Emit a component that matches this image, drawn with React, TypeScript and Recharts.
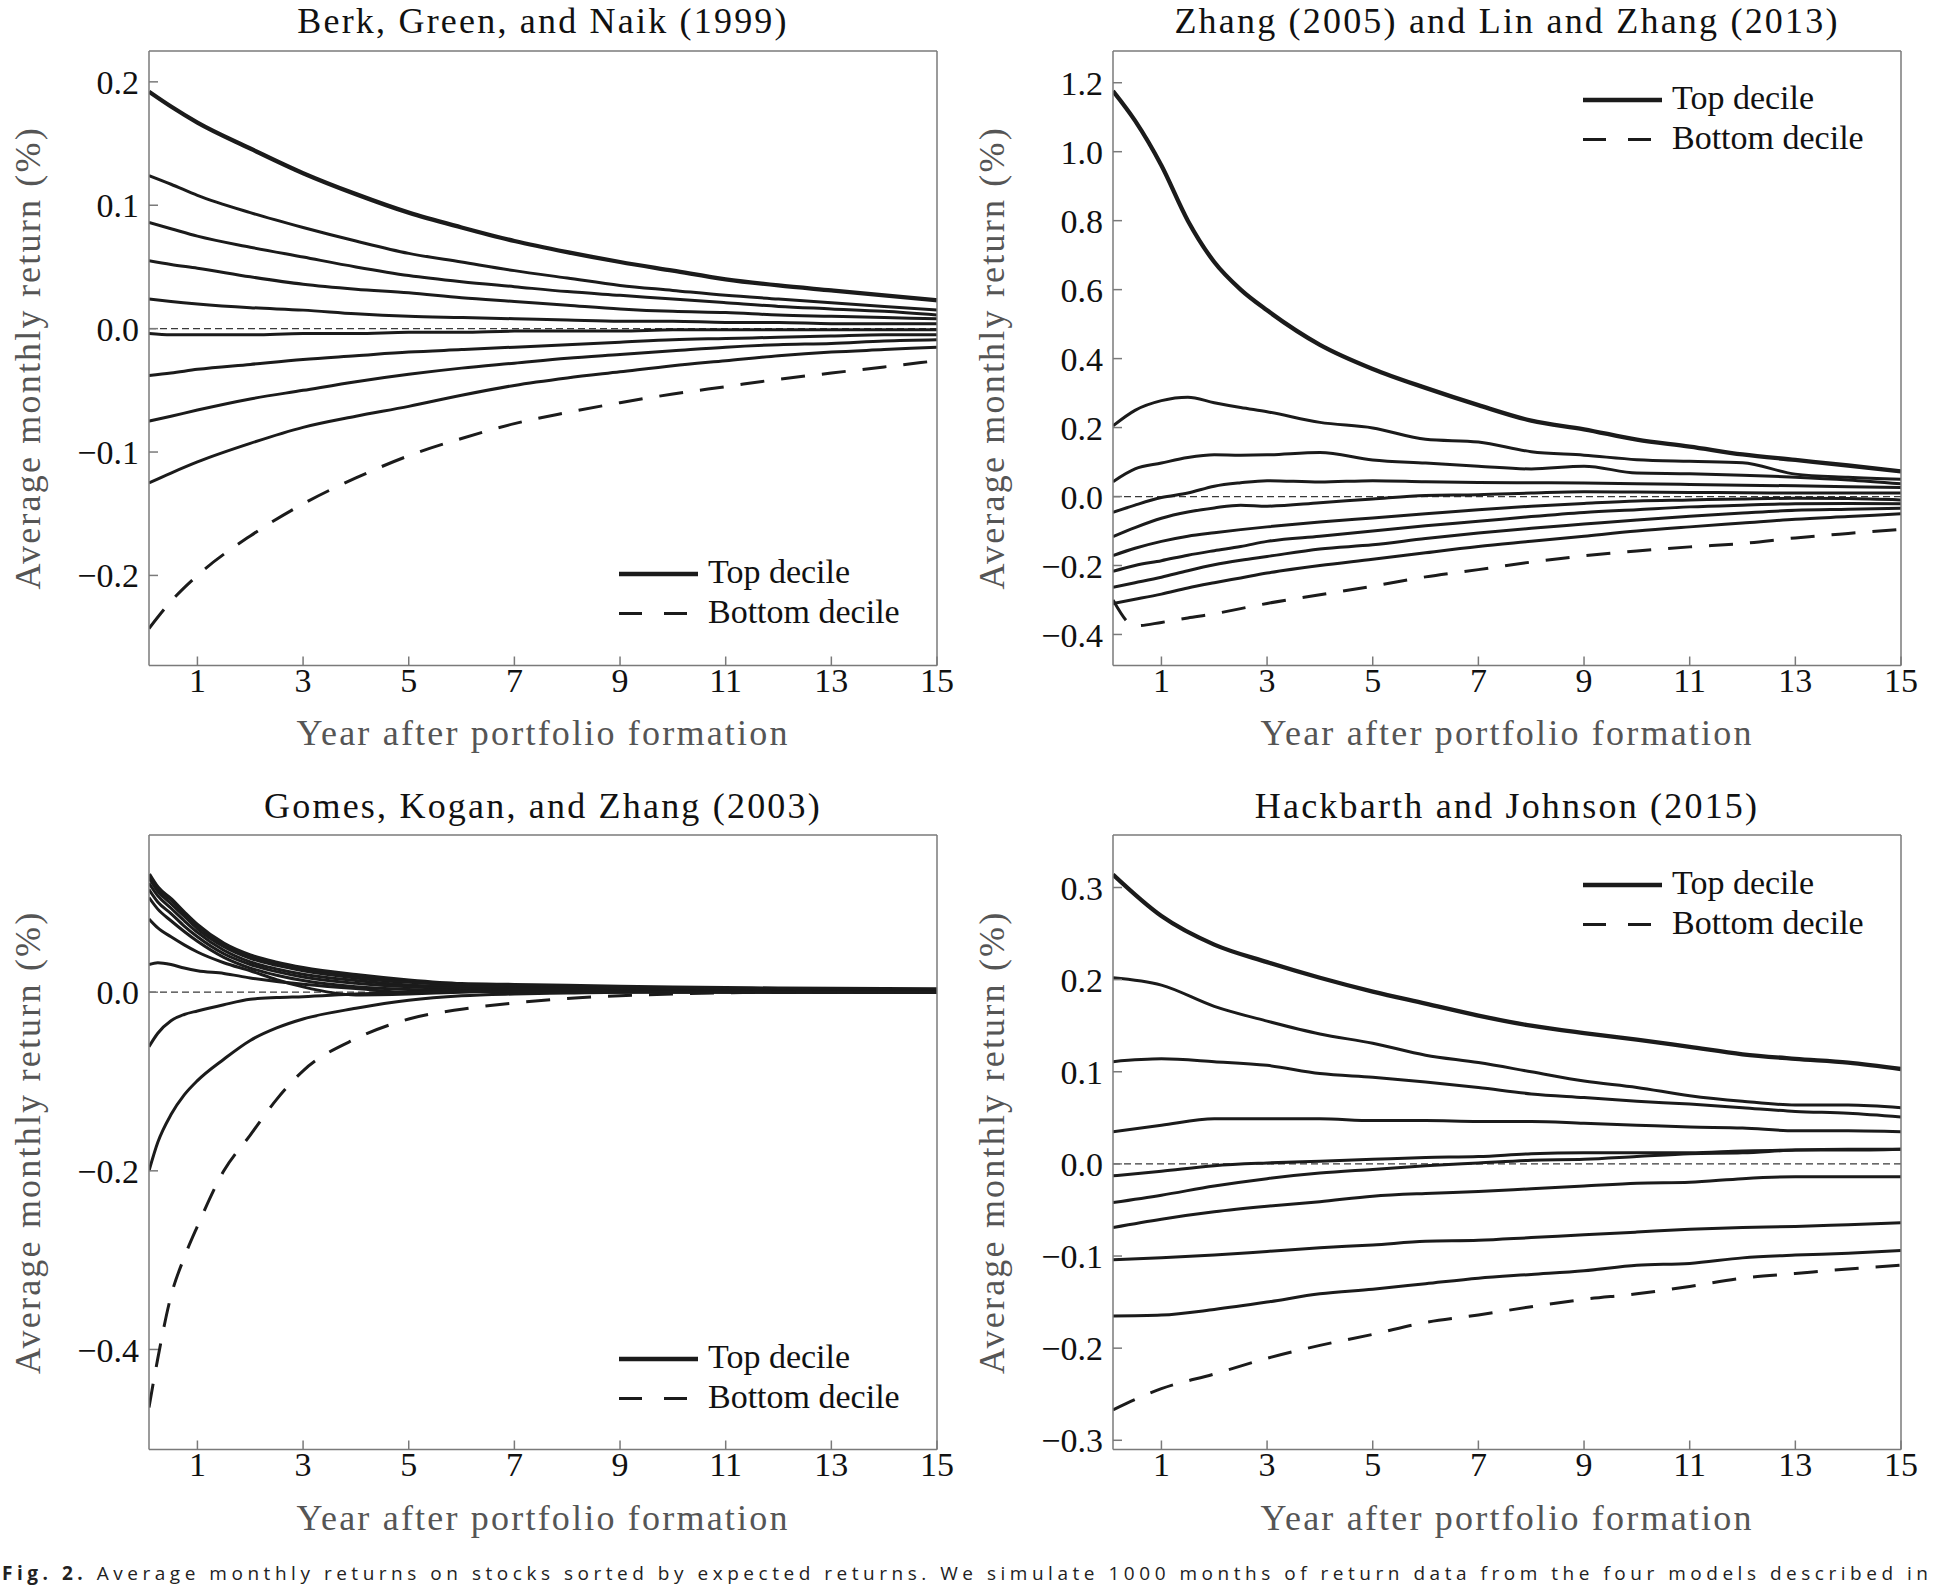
import React from 'react';
import { LineChart, Line, XAxis, YAxis, ReferenceLine, Legend } from 'recharts';

// Years after portfolio formation at which the curves were read, per panel.
// Each panel: deciles from top (d10, thick) down to bottom (d1, dashed).

// Berk, Green, and Naik (1999)
const bgnYears = [0.083, 0.5, 1, 2, 3, 4, 5, 6, 7, 8, 9, 10, 11, 12, 13, 14, 15];
const bgnD10 = [0.192, 0.18, 0.167, 0.146, 0.126, 0.109, 0.094, 0.082, 0.071, 0.062, 0.054, 0.047, 0.04, 0.035, 0.031, 0.027, 0.023];
const bgnD9 = [0.124, 0.117, 0.108, 0.094, 0.082, 0.071, 0.061, 0.054, 0.047, 0.041, 0.035, 0.031, 0.027, 0.024, 0.021, 0.018, 0.015];
const bgnD8 = [0.086, 0.081, 0.075, 0.066, 0.058, 0.05, 0.043, 0.038, 0.034, 0.03, 0.027, 0.024, 0.021, 0.018, 0.016, 0.014, 0.011];
const bgnD7 = [0.055, 0.052, 0.049, 0.042, 0.036, 0.032, 0.029, 0.025, 0.022, 0.019, 0.016, 0.014, 0.013, 0.011, 0.01, 0.009, 0.008];
const bgnD6 = [0.024, 0.022, 0.02, 0.017, 0.015, 0.012, 0.01, 0.009, 0.008, 0.007, 0.006, 0.006, 0.005, 0.005, 0.004, 0.004, 0.004];
const bgnD5 = [-0.004, -0.005, -0.005, -0.005, -0.004, -0.004, -0.003, -0.003, -0.002, -0.002, -0.002, -0.001, -0.001, -0.001, -0.001, -0.001, -0.001];
const bgnD4 = [-0.038, -0.036, -0.033, -0.029, -0.025, -0.022, -0.019, -0.017, -0.015, -0.013, -0.011, -0.009, -0.008, -0.007, -0.006, -0.005, -0.005];
const bgnD3 = [-0.075, -0.071, -0.066, -0.057, -0.05, -0.043, -0.037, -0.032, -0.028, -0.024, -0.021, -0.018, -0.015, -0.013, -0.012, -0.01, -0.009];
const bgnD2 = [-0.125, -0.117, -0.108, -0.093, -0.08, -0.071, -0.063, -0.054, -0.046, -0.04, -0.035, -0.03, -0.026, -0.022, -0.019, -0.017, -0.015];
const bgnD1 = [-0.243, -0.221, -0.2, -0.168, -0.142, -0.121, -0.103, -0.089, -0.077, -0.068, -0.06, -0.053, -0.047, -0.041, -0.036, -0.031, -0.026];

// Zhang (2005) and Lin and Zhang (2013)
const zhangYears = [0.083, 0.5, 1, 1.5, 2, 2.5, 3, 4, 5, 6, 7, 8, 9, 10, 11, 12, 13, 14, 15];
const zhangD10 = [1.176, 1.09, 0.96, 0.8, 0.68, 0.6, 0.54, 0.44, 0.37, 0.315, 0.265, 0.22, 0.195, 0.165, 0.145, 0.122, 0.106, 0.09, 0.073];
const zhangD9 = [0.205, 0.25, 0.278, 0.288, 0.272, 0.258, 0.246, 0.215, 0.199, 0.166, 0.158, 0.13, 0.12, 0.107, 0.102, 0.098, 0.065, 0.056, 0.05];
const zhangD8 = [0.043, 0.08, 0.097, 0.113, 0.121, 0.12, 0.121, 0.128, 0.106, 0.097, 0.088, 0.08, 0.088, 0.068, 0.066, 0.062, 0.056, 0.048, 0.037];
const zhangD7 = [-0.046, -0.025, -0.003, 0.01, 0.03, 0.04, 0.046, 0.042, 0.046, 0.043, 0.041, 0.04, 0.039, 0.037, 0.035, 0.033, 0.031, 0.028, 0.026];
const zhangD6 = [-0.116, -0.09, -0.063, -0.045, -0.033, -0.025, -0.028, -0.018, -0.007, 0.003, 0.005, 0.01, 0.014, 0.013, 0.012, 0.011, 0.01, 0.01, 0.01];
const zhangD5 = [-0.171, -0.15, -0.13, -0.115, -0.105, -0.096, -0.088, -0.074, -0.062, -0.05, -0.038, -0.028, -0.02, -0.013, -0.01, -0.007, -0.005, -0.006, -0.01];
const zhangD4 = [-0.217, -0.2, -0.186, -0.17, -0.157, -0.145, -0.13, -0.115, -0.1, -0.085, -0.072, -0.058, -0.046, -0.038, -0.03, -0.025, -0.021, -0.02, -0.021];
const zhangD3 = [-0.263, -0.25, -0.234, -0.215, -0.198, -0.185, -0.174, -0.152, -0.14, -0.122, -0.106, -0.092, -0.08, -0.068, -0.057, -0.048, -0.04, -0.037, -0.034];
const zhangD2 = [-0.31, -0.298, -0.283, -0.265, -0.25, -0.236, -0.222, -0.2, -0.182, -0.163, -0.145, -0.13, -0.115, -0.1, -0.088, -0.077, -0.066, -0.058, -0.05];
const zhangD1 = [-0.3, -0.375, -0.365, -0.352, -0.34, -0.325, -0.31, -0.285, -0.26, -0.233, -0.212, -0.19, -0.172, -0.158, -0.146, -0.136, -0.12, -0.107, -0.095];

// Gomes, Kogan, and Zhang (2003)
const gkzYears = [0.083, 0.25, 0.5, 0.75, 1, 1.5, 2, 2.5, 3, 4, 5, 6, 7, 8, 9, 10, 12, 15];
const gkzD10 = [0.132, 0.117, 0.104, 0.089, 0.075, 0.054, 0.041, 0.033, 0.027, 0.019, 0.013, 0.009, 0.008, 0.007, 0.006, 0.005, 0.004, 0.003];
const gkzD9 = [0.128, 0.113, 0.099, 0.085, 0.071, 0.051, 0.038, 0.03, 0.024, 0.016, 0.011, 0.008, 0.007, 0.006, 0.004, 0.004, 0.003, 0.002];
const gkzD8 = [0.122, 0.108, 0.094, 0.08, 0.067, 0.047, 0.034, 0.026, 0.02, 0.013, 0.008, 0.006, 0.005, 0.004, 0.003, 0.003, 0.002, 0.002];
const gkzD7 = [0.115, 0.101, 0.088, 0.074, 0.062, 0.043, 0.031, 0.023, 0.017, 0.01, 0.006, 0.004, 0.004, 0.003, 0.003, 0.002, 0.002, 0.001];
const gkzD6 = [0.106, 0.093, 0.08, 0.068, 0.057, 0.039, 0.027, 0.019, 0.013, 0.006, 0.003, 0.002, 0.003, 0.003, 0.002, 0.002, 0.001, 0.001];
const gkzD5 = [0.082, 0.072, 0.062, 0.053, 0.045, 0.033, 0.024, 0.014, 0.006, -0.003, -0.002, 0.0, 0.001, 0.001, 0.0, 0.001, 0.0, 0.0];
const gkzD4 = [0.031, 0.033, 0.031, 0.027, 0.024, 0.021, 0.016, 0.012, 0.009, 0.004, 0.0, 0.001, 0.002, 0.002, 0.001, 0.001, 0.001, 0.0];
const gkzD3 = [-0.061, -0.046, -0.032, -0.025, -0.021, -0.014, -0.008, -0.006, -0.005, -0.002, 0.0, 0.001, 0.0, 0.0, 0.001, 0.0, 0.0, 0.0];
const gkzD2 = [-0.2, -0.168, -0.137, -0.115, -0.099, -0.075, -0.054, -0.04, -0.03, -0.018, -0.009, -0.004, -0.002, -0.001, 0.0, 0.0, 0.0, 0.0];
const gkzD1 = [-0.465, -0.41, -0.34, -0.297, -0.262, -0.2, -0.16, -0.12, -0.088, -0.052, -0.03, -0.019, -0.012, -0.007, -0.004, -0.002, 0.0, 0.0];

// Hackbarth and Johnson (2015)
const hjYears = [0.083, 1, 2, 3, 4, 5, 6, 7, 8, 9, 10, 11, 12, 13, 14, 15];
const hjD10 = [0.314, 0.269, 0.238, 0.219, 0.202, 0.187, 0.174, 0.161, 0.15, 0.142, 0.135, 0.127, 0.119, 0.114, 0.11, 0.103];
const hjD9 = [0.202, 0.194, 0.171, 0.155, 0.141, 0.131, 0.118, 0.11, 0.1, 0.09, 0.083, 0.074, 0.068, 0.064, 0.064, 0.061];
const hjD8 = [0.111, 0.114, 0.111, 0.107, 0.098, 0.094, 0.089, 0.083, 0.076, 0.072, 0.068, 0.065, 0.061, 0.057, 0.055, 0.051];
const hjD7 = [0.035, 0.042, 0.049, 0.049, 0.049, 0.047, 0.047, 0.046, 0.046, 0.044, 0.042, 0.04, 0.039, 0.036, 0.036, 0.035];
const hjD6 = [-0.013, -0.008, -0.002, 0.001, 0.003, 0.005, 0.007, 0.008, 0.011, 0.012, 0.012, 0.012, 0.014, 0.015, 0.015, 0.016];
const hjD5 = [-0.042, -0.034, -0.024, -0.016, -0.01, -0.006, -0.002, 0.001, 0.004, 0.005, 0.008, 0.011, 0.012, 0.015, 0.016, 0.016];
const hjD4 = [-0.069, -0.06, -0.052, -0.046, -0.041, -0.035, -0.032, -0.03, -0.027, -0.024, -0.021, -0.02, -0.016, -0.014, -0.014, -0.014];
const hjD3 = [-0.104, -0.102, -0.099, -0.095, -0.091, -0.088, -0.084, -0.083, -0.08, -0.077, -0.074, -0.071, -0.069, -0.068, -0.066, -0.064];
const hjD2 = [-0.165, -0.164, -0.158, -0.15, -0.141, -0.136, -0.13, -0.124, -0.12, -0.116, -0.11, -0.108, -0.102, -0.099, -0.097, -0.094];
const hjD1 = [-0.267, -0.244, -0.228, -0.211, -0.197, -0.185, -0.172, -0.164, -0.155, -0.147, -0.141, -0.133, -0.124, -0.119, -0.114, -0.11];

const xTicks = [1, 3, 5, 7, 9, 11, 13, 15];
const bgnTicks = [-0.2, -0.1, 0, 0.1, 0.2];
const zhangTicks = [-0.4, -0.2, 0, 0.2, 0.4, 0.6, 0.8, 1.0, 1.2];
const gkzTicks = [-0.4, -0.2, 0];
const hjTicks = [-0.3, -0.2, -0.1, 0, 0.1, 0.2, 0.3];

const INK = '#1b1b1b';
const FRAME = '#7a7a7a';
const SERIF = "'Liberation Serif', 'Times New Roman', serif";

const PLOT_W = 788;
const PLOT_H = 614.5;
const MARGIN = { top: 10, right: 10, bottom: 50, left: 100 };
const Y_W = 20;
const YR_W = 10;
const XT_H = 10;
const XB_H = 20;
const OX = MARGIN.left + Y_W;
const OY = MARGIN.top + XT_H;
const CHART_W = PLOT_W + OX + MARGIN.right + YR_W;
const CHART_H = PLOT_H + OY + MARGIN.bottom + XB_H;

const fmtY = (v: number) => (v < -1e-9 ? '\u2212' : '') + Math.abs(v).toFixed(1);

function DecileLegend() {
  return (
    <svg width={330} height={90} style={{ display: 'block', overflow: 'visible' }}>
      <line x1={0} y1={20} x2={79} y2={20} stroke={INK} strokeWidth={4.3} />
      <text x={89} y={29} fontFamily={SERIF} fontSize={34} fill="#111">Top decile</text>
      <line x1={0} y1={59.5} x2={69} y2={59.5} stroke={INK} strokeWidth={3} strokeDasharray="23 22" />
      <text x={89} y={68.5} fontFamily={SERIF} fontSize={34} fill="#111">Bottom decile</text>
    </svg>
  );
}

type PanelProps = {
  left: number;
  top: number;
  years: number[];
  series: number[][];
  yDomain: [number, number];
  yTicks: number[];
  legendTop: boolean;
};

function Panel({ left, top, years, series, yDomain, yTicks, legendTop }: PanelProps) {
  const rows = years.map((x, i) => {
    const r: Record<string, number> = { x };
    series.forEach((s, k) => {
      r[`d${10 - k}`] = s[i];
    });
    return r;
  });
  const legendY = legendTop ? OY + 49.7 - 20 : OY + PLOT_H - 90.6 - 20;
  const axisLine = { stroke: FRAME, strokeWidth: 1.5 };
  const tickStyle = { fontSize: 34, fill: '#111', fontFamily: SERIF };

  return (
    <div style={{ position: 'absolute', left: left - OX, top: top - OY }}>
      <LineChart width={CHART_W} height={CHART_H} data={rows} margin={MARGIN}>
        <XAxis
          dataKey="x"
          type="number"
          domain={[1 / 12, 15]}
          ticks={xTicks}
          allowDataOverflow
          interval={0}
          height={XB_H}
          tickSize={-9}
          tickMargin={11}
          tick={tickStyle}
          axisLine={axisLine}
          tickLine={axisLine}
        />
        <XAxis
          xAxisId="top"
          orientation="top"
          type="number"
          domain={[1 / 12, 15]}
          ticks={xTicks}
          allowDataOverflow
          interval={0}
          height={XT_H}
          tickSize={-9}
          tick={false}
          axisLine={axisLine}
          tickLine={axisLine}
        />
        <YAxis
          type="number"
          domain={yDomain}
          ticks={yTicks}
          allowDataOverflow
          interval={0}
          width={Y_W}
          tickSize={-9}
          tickMargin={19}
          tickFormatter={fmtY}
          tick={tickStyle}
          axisLine={axisLine}
          tickLine={axisLine}
        />
        <YAxis
          yAxisId="right"
          orientation="right"
          type="number"
          domain={yDomain}
          ticks={yTicks}
          allowDataOverflow
          interval={0}
          width={YR_W}
          tickSize={-9}
          tick={false}
          axisLine={axisLine}
          tickLine={axisLine}
        />
        <ReferenceLine y={0} stroke="#3a3a3a" strokeWidth={1.3} strokeDasharray="7 4" />
        {series.map((_, k) => (
          <Line
            key={k}
            dataKey={`d${10 - k}`}
            type="monotone"
            dot={false}
            activeDot={false}
            isAnimationActive={false}
            stroke={INK}
            strokeWidth={k === 0 ? 4.3 : 3}
            strokeDasharray={k === 9 ? '24 17' : undefined}
          />
        ))}
        <Legend
          layout="vertical"
          align="center"
          verticalAlign="middle"
          content={() => <DecileLegend />}
          wrapperStyle={{ left: OX + 470, top: legendY, width: 330, height: 90 }}
        />
      </LineChart>
    </div>
  );
}

const panels = [
  {
    title: 'Berk, Green, and Naik (1999)',
    left: 149,
    top: 50.6,
    years: bgnYears,
    series: [bgnD10, bgnD9, bgnD8, bgnD7, bgnD6, bgnD5, bgnD4, bgnD3, bgnD2, bgnD1],
    yDomain: [-0.273, 0.225] as [number, number],
    yTicks: bgnTicks,
    legendTop: false,
  },
  {
    title: 'Zhang (2005) and Lin and Zhang (2013)',
    left: 1113,
    top: 50.6,
    years: zhangYears,
    series: [zhangD10, zhangD9, zhangD8, zhangD7, zhangD6, zhangD5, zhangD4, zhangD3, zhangD2, zhangD1],
    yDomain: [-0.49, 1.292] as [number, number],
    yTicks: zhangTicks,
    legendTop: true,
  },
  {
    title: 'Gomes, Kogan, and Zhang (2003)',
    left: 149,
    top: 835,
    years: gkzYears,
    series: [gkzD10, gkzD9, gkzD8, gkzD7, gkzD6, gkzD5, gkzD4, gkzD3, gkzD2, gkzD1],
    yDomain: [-0.512, 0.176] as [number, number],
    yTicks: gkzTicks,
    legendTop: false,
  },
  {
    title: 'Hackbarth and Johnson (2015)',
    left: 1113,
    top: 835,
    years: hjYears,
    series: [hjD10, hjD9, hjD8, hjD7, hjD6, hjD5, hjD4, hjD3, hjD2, hjD1],
    yDomain: [-0.31, 0.357] as [number, number],
    yTicks: hjTicks,
    legendTop: true,
  },
];

export default function App() {
  const big = { fontFamily: SERIF, fontSize: 36, letterSpacing: 2.2 };
  return (
    <div
      style={{
        position: 'absolute',
        left: 0,
        top: 0,
        width: 1934,
        height: 1586,
        background: '#fff',
        overflow: 'hidden',
      }}
    >
      <svg width={1934} height={1586} style={{ position: 'absolute', left: 0, top: 0 }}>
        {panels.map((p) => {
          const cx = p.left + PLOT_W / 2;
          const cy = p.top + PLOT_H / 2;
          return (
            <g key={p.title}>
              <text x={cx} y={p.top - 17.5} textAnchor="middle" fill="#111" {...big}>
                {p.title}
              </text>
              <text x={cx} y={p.top + PLOT_H + 80} textAnchor="middle" fill="#555" {...big}>
                Year after portfolio formation
              </text>
              <text
                x={0}
                y={0}
                textAnchor="middle"
                fill="#555"
                transform={`translate(${p.left - 109}, ${cy}) rotate(-90)`}
                {...big}
              >
                Average monthly return (%)
              </text>
            </g>
          );
        })}
        <text
          x={2}
          y={1580}
          fontFamily="'Open Sans', 'DejaVu Sans', sans-serif"
          fontSize={19}
          fill="#222"
          textLength={1926}
          lengthAdjust="spacing"
        >
          <tspan fontWeight="bold">Fig. 2.</tspan>
          <tspan> Average monthly returns on stocks sorted by expected returns. We simulate 1000 months of return data from the four models described in</tspan>
        </text>
      </svg>
      {panels.map((p) => (
        <Panel
          key={p.title}
          left={p.left}
          top={p.top}
          years={p.years}
          series={p.series}
          yDomain={p.yDomain}
          yTicks={p.yTicks}
          legendTop={p.legendTop}
        />
      ))}
    </div>
  );
}
